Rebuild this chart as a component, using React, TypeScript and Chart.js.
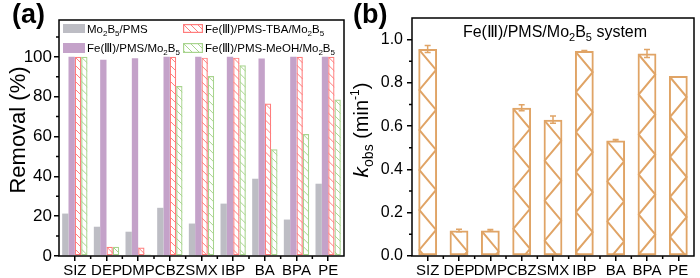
import React, { useEffect, useRef } from 'react';
import { Chart, registerables } from 'chart.js';

Chart.register(...registerables);

// ---------- data ----------
const categories = ['SIZ', 'DEP', 'DMP', 'CBZ', 'SMX', 'IBP', 'BA', 'BPA', 'PE'];
const mo2b5Pms = [21.3, 14.7, 12.2, 24.2, 16.3, 26.3, 38.8, 18.3, 36.3];
const fePmsMo2b5 = [100, 98.6, 99.3, 100, 100, 100, 99.2, 100, 100];
const fePmsTbaMo2b5 = [100, 4.6, 4.3, 100, 99.6, 99.6, 76.6, 100, 100];
const fePmsMeohMo2b5 = [100, 4.6, 0.7, 85.3, 90.4, 95.8, 53.6, 61.2, 78.6];
const removalTicks = [0, 20, 40, 60, 80, 100];

const kobs = [0.957, 0.118, 0.118, 0.685, 0.63, 0.947, 0.534, 0.936, 0.832];
const kobsErr = [0.016, 0.006, 0.004, 0.014, 0.017, 0.003, 0.004, 0.018, 0];
const kobsTicks = [0, 0.2, 0.4, 0.6, 0.8, 1.0];

// ---------- styles ----------
const FF = '"Liberation Sans", Arial, Helvetica, sans-serif';
const GRAY = '#bdbdc4';
const PURPLE = '#c4a2c9';
const RED = '#ff7d7d';
const GREEN = '#a8d48e';
const ORANGE = '#e0a466';

type Seg = { t: string; f: string; dy?: number };

function drawRich(ctx: CanvasRenderingContext2D, segs: Seg[], x: number, y: number, align: 'left' | 'center') {
  let total = 0;
  for (const s of segs) {
    ctx.font = s.f;
    total += ctx.measureText(s.t).width;
  }
  let cx = align === 'center' ? x - total / 2 : x;
  ctx.textAlign = 'left';
  ctx.textBaseline = 'alphabetic';
  for (const s of segs) {
    ctx.font = s.f;
    ctx.fillText(s.t, cx, y + (s.dy || 0));
    cx += ctx.measureText(s.t).width;
  }
}

function hatchRect(ctx: CanvasRenderingContext2D, l: number, t: number, r: number, b: number, color: string, spacing: number) {
  if (b - t < 0.5) return;
  ctx.save();
  ctx.beginPath();
  ctx.rect(l, t, r - l, b - t);
  ctx.clip();
  ctx.strokeStyle = color;
  ctx.lineWidth = 1;
  ctx.beginPath();
  const w = r - l;
  const n = Math.ceil(w / spacing) + 1;
  const m = Math.ceil((b - t) / spacing) + 1;
  for (let k = -n; k <= m; k++) {
    const y0 = t + k * spacing;
    ctx.moveTo(l, y0);
    ctx.lineTo(r, y0 + w);
  }
  ctx.stroke();
  ctx.restore();
}

function minorTicksPlugin(yMinor: number[]) {
  return {
    id: 'frameMinor',
    afterDraw(chart: any) {
      const { ctx, chartArea: a } = chart;
      const ys = chart.scales.y;
      const xs = chart.scales.x;
      ctx.save();
      ctx.strokeStyle = '#000';
      ctx.lineWidth = 1.5;
      ctx.strokeRect(a.left, a.top, a.right - a.left, a.bottom - a.top);
      ctx.beginPath();
      for (const v of yMinor) {
        const py = ys.getPixelForValue(v);
        ctx.moveTo(a.left - 3, py);
        ctx.lineTo(a.left, py);
      }
      for (let i = 0; i < categories.length - 1; i++) {
        const px = (xs.getPixelForValue(i) + xs.getPixelForValue(i + 1)) / 2;
        ctx.moveTo(px, a.bottom);
        ctx.lineTo(px, a.bottom + 3);
      }
      ctx.stroke();
      ctx.restore();
    },
  };
}

function minorsOf(ticks: number[], max: number) {
  const out: number[] = [];
  const step = ticks[1] - ticks[0];
  for (let i = 0; i < ticks.length; i++) {
    const v = ticks[i] + step / 2;
    if (v < max) out.push(v);
  }
  return out;
}

const axisGrid = {
  display: true,
  drawOnChartArea: false,
  drawTicks: true,
  tickLength: 5,
  color: '#000',
  lineWidth: 1.5,
  offset: false,
};

function ChartA() {
  const ref = useRef<HTMLCanvasElement>(null);
  useEffect(() => {
    const canvas = ref.current!;
    const hatchCfg: Record<number, string> = { 2: RED, 3: GREEN };
    const hatchPlugin = {
      id: 'hatchA',
      afterDatasetsDraw(chart: any) {
        const ctx = chart.ctx;
        for (const idx of [2, 3]) {
          const meta = chart.getDatasetMeta(idx);
          for (const el of meta.data) {
            const p = el.getProps(['x', 'y', 'base', 'width'], true);
            hatchRect(ctx, p.x - p.width / 2, p.y, p.x + p.width / 2, p.base, hatchCfg[idx], 8);
          }
        }
      },
    };
    const legendPlugin = {
      id: 'legendA',
      afterDraw(chart: any) {
        const ctx = chart.ctx as CanvasRenderingContext2D;
        ctx.save();
        const main = `11.5px ${FF}`;
        const sub = `8px ${FF}`;
        const mo = (pre: string): Seg[] => [
          { t: pre + 'Mo', f: main },
          { t: '2', f: sub, dy: 3 },
          { t: 'B', f: main },
          { t: '5', f: sub, dy: 3 },
        ];
        // swatches
        ctx.fillStyle = GRAY;
        ctx.fillRect(63, 24, 22, 9);
        ctx.fillStyle = PURPLE;
        ctx.fillRect(63, 43, 22, 10);
        const outl = (x: number, y: number, w: number, h: number, c: string) => {
          ctx.strokeStyle = c;
          ctx.lineWidth = 1.2;
          ctx.strokeRect(x + 0.6, y + 0.6, w - 1.2, h - 1.2);
          hatchRect(ctx, x, y, x + w, y + h, c, 7);
        };
        outl(183, 24, 20, 9, RED);
        outl(183, 43, 20, 10, GREEN);
        ctx.fillStyle = '#000';
        drawRich(ctx, [...mo(''), { t: '/PMS', f: main }], 87, 33, 'left');
        drawRich(ctx, [{ t: 'Fe(Ⅲ)/PMS/', f: main }, ...mo('')], 87, 52, 'left');
        drawRich(ctx, [{ t: 'Fe(Ⅲ)/PMS-TBA/', f: main }, ...mo('')], 205, 33, 'left');
        drawRich(ctx, [{ t: 'Fe(Ⅲ)/PMS-MeOH/', f: main }, ...mo('')], 205, 52, 'left');
        // panel label
        ctx.font = `bold 27px ${FF}`;
        ctx.textAlign = 'left';
        ctx.textBaseline = 'alphabetic';
        ctx.fillText('(a)', 12, 23);
        // y title
        ctx.translate(25, 130);
        ctx.rotate(-Math.PI / 2);
        drawRich(ctx, [{ t: 'Removal (%)', f: `22px ${FF}` }], 0, 0, 'center');
        ctx.restore();
      },
    };
    const chart = new Chart(canvas, {
      type: 'bar',
      data: {
        labels: categories,
        datasets: [
          { label: 'Mo2B5/PMS', data: mo2b5Pms, backgroundColor: GRAY, borderWidth: 0 },
          { label: 'Fe(III)/PMS/Mo2B5', data: fePmsMo2b5, backgroundColor: PURPLE, borderWidth: 0 },
          {
            label: 'Fe(III)/PMS-TBA/Mo2B5',
            data: fePmsTbaMo2b5,
            backgroundColor: 'rgba(255,255,255,0)',
            borderColor: RED,
            borderWidth: 1.2,
            borderSkipped: false,
          },
          {
            label: 'Fe(III)/PMS-MeOH/Mo2B5',
            data: fePmsMeohMo2b5,
            backgroundColor: 'rgba(255,255,255,0)',
            borderColor: GREEN,
            borderWidth: 1.2,
            borderSkipped: false,
          },
        ],
      },
      options: {
        animation: false,
        responsive: false,
        maintainAspectRatio: false,
        datasets: { bar: { categoryPercentage: 0.8, barPercentage: 1.0 } },
        layout: { padding: { top: 20, right: 6, left: 0, bottom: 0 } },
        plugins: { legend: { display: false }, tooltip: { enabled: false } },
        scales: {
          x: {
            type: 'category',
            offset: true,
            grid: axisGrid,
            border: { display: false },
            ticks: { color: '#000', font: { family: FF, size: 15 }, padding: 1, autoSkip: false, maxRotation: 0 },
            afterFit: (s: any) => {
              s.height = 22;
            },
          },
          y: {
            min: 0,
            max: 118.5,
            afterBuildTicks: (s: any) => {
              s.ticks = removalTicks.map((v) => ({ value: v }));
            },
            grid: axisGrid,
            border: { display: false },
            ticks: { color: '#000', font: { family: FF, size: 17 }, padding: 2 },
            afterFit: (s: any) => {
              s.width = 59;
            },
          },
        },
      } as any,
      plugins: [hatchPlugin, minorTicksPlugin(minorsOf(removalTicks, 118.5)), legendPlugin],
    });
    return () => chart.destroy();
  }, []);
  return <canvas ref={ref} width={350} height={278} style={{ position: 'absolute', left: 0, top: 0, display: 'block' }} />;
}

function ChartB() {
  const ref = useRef<HTMLCanvasElement>(null);
  useEffect(() => {
    const canvas = ref.current!;
    const zigzagPlugin = {
      id: 'zigzag',
      afterDatasetsDraw(chart: any) {
        const ctx = chart.ctx as CanvasRenderingContext2D;
        const meta = chart.getDatasetMeta(0);
        ctx.save();
        ctx.strokeStyle = ORANGE;
        ctx.lineWidth = 2;
        for (const el of meta.data) {
          const p = el.getProps(['x', 'y', 'base', 'width'], true);
          const l = p.x - p.width / 2 + 1;
          const r = p.x + p.width / 2 - 1;
          const t = p.y + 1;
          const b = p.base;
          ctx.save();
          ctx.beginPath();
          ctx.rect(p.x - p.width / 2, p.y, p.width, p.base - p.y);
          ctx.clip();
          ctx.beginPath();
          const rise = 20;
          let y = t;
          let left = true;
          ctx.moveTo(l, y);
          while (y < b + rise) {
            y += rise;
            left = !left;
            ctx.lineTo(left ? l : r, y);
          }
          ctx.stroke();
          ctx.restore();
        }
        ctx.restore();
      },
    };
    const errPlugin = {
      id: 'errbars',
      afterDatasetsDraw(chart: any) {
        const ctx = chart.ctx as CanvasRenderingContext2D;
        const meta = chart.getDatasetMeta(0);
        const ys = chart.scales.y;
        ctx.save();
        ctx.strokeStyle = ORANGE;
        ctx.lineWidth = 1.5;
        meta.data.forEach((el: any, i: number) => {
          const e = kobsErr[i];
          if (!e) return;
          const hi = ys.getPixelForValue(kobs[i] + e);
          const lo = ys.getPixelForValue(kobs[i] - e);
          ctx.beginPath();
          ctx.moveTo(el.x, hi);
          ctx.lineTo(el.x, lo);
          ctx.moveTo(el.x - 3, hi);
          ctx.lineTo(el.x + 3, hi);
          ctx.moveTo(el.x - 3, lo);
          ctx.lineTo(el.x + 3, lo);
          ctx.stroke();
        });
        ctx.restore();
      },
    };
    const textPlugin = {
      id: 'textB',
      afterDraw(chart: any) {
        const ctx = chart.ctx as CanvasRenderingContext2D;
        ctx.save();
        ctx.fillStyle = '#000';
        const main = `16px ${FF}`;
        const sub = `11px ${FF}`;
        drawRich(
          ctx,
          [
            { t: 'Fe(Ⅲ)/PMS/Mo', f: main },
            { t: '2', f: sub, dy: 4 },
            { t: 'B', f: main },
            { t: '5', f: sub, dy: 4 },
            { t: ' system', f: main },
          ],
          205,
          37,
          'center'
        );
        ctx.font = `bold 27px ${FF}`;
        ctx.textAlign = 'left';
        ctx.textBaseline = 'alphabetic';
        ctx.fillText('(b)', 3, 23);
        ctx.translate(18, 130);
        ctx.rotate(-Math.PI / 2);
        drawRich(
          ctx,
          [
            { t: 'k', f: `italic 21px ${FF}` },
            { t: 'obs', f: `14px ${FF}`, dy: 5 },
            { t: ' (min', f: `20px ${FF}` },
            { t: '-1', f: `12px ${FF}`, dy: -9 },
            { t: ')', f: `20px ${FF}` },
          ],
          0,
          0,
          'center'
        );
        ctx.restore();
      },
    };
    const chart = new Chart(canvas, {
      type: 'bar',
      data: {
        labels: categories,
        datasets: [
          {
            label: 'kobs',
            data: kobs,
            backgroundColor: 'rgba(255,255,255,0)',
            borderColor: ORANGE,
            borderWidth: 2,
            borderSkipped: false,
            categoryPercentage: 1.0,
            barPercentage: 0.6,
          },
        ],
      },
      options: {
        animation: false,
        responsive: false,
        maintainAspectRatio: false,
        layout: { padding: { top: 18, right: 6, left: 0, bottom: 0 } },
        plugins: { legend: { display: false }, tooltip: { enabled: false } },
        scales: {
          x: {
            type: 'category',
            offset: true,
            grid: axisGrid,
            border: { display: false },
            ticks: { color: '#000', font: { family: FF, size: 15 }, padding: 1, autoSkip: false, maxRotation: 0 },
            afterFit: (s: any) => {
              s.height = 22;
            },
          },
          y: {
            min: 0,
            max: 1.1,
            afterBuildTicks: (s: any) => {
              s.ticks = kobsTicks.map((v) => ({ value: v }));
            },
            grid: axisGrid,
            border: { display: false },
            ticks: {
              color: '#000',
              font: { family: FF, size: 16 },
              padding: 4,
              callback: (v: any) => Number(v).toFixed(1),
            },
            afterFit: (s: any) => {
              s.width = 62;
            },
          },
        },
      } as any,
      plugins: [zigzagPlugin, errPlugin, minorTicksPlugin(minorsOf(kobsTicks, 1.1)), textPlugin],
    });
    return () => chart.destroy();
  }, []);
  return <canvas ref={ref} width={350} height={278} style={{ position: 'absolute', left: 350, top: 0, display: 'block' }} />;
}

export default function App() {
  return (
    <div style={{ position: 'fixed', left: 0, top: 0, width: 700, height: 278, background: '#fff', overflow: 'hidden' }}>
      <ChartA />
      <ChartB />
    </div>
  );
}
